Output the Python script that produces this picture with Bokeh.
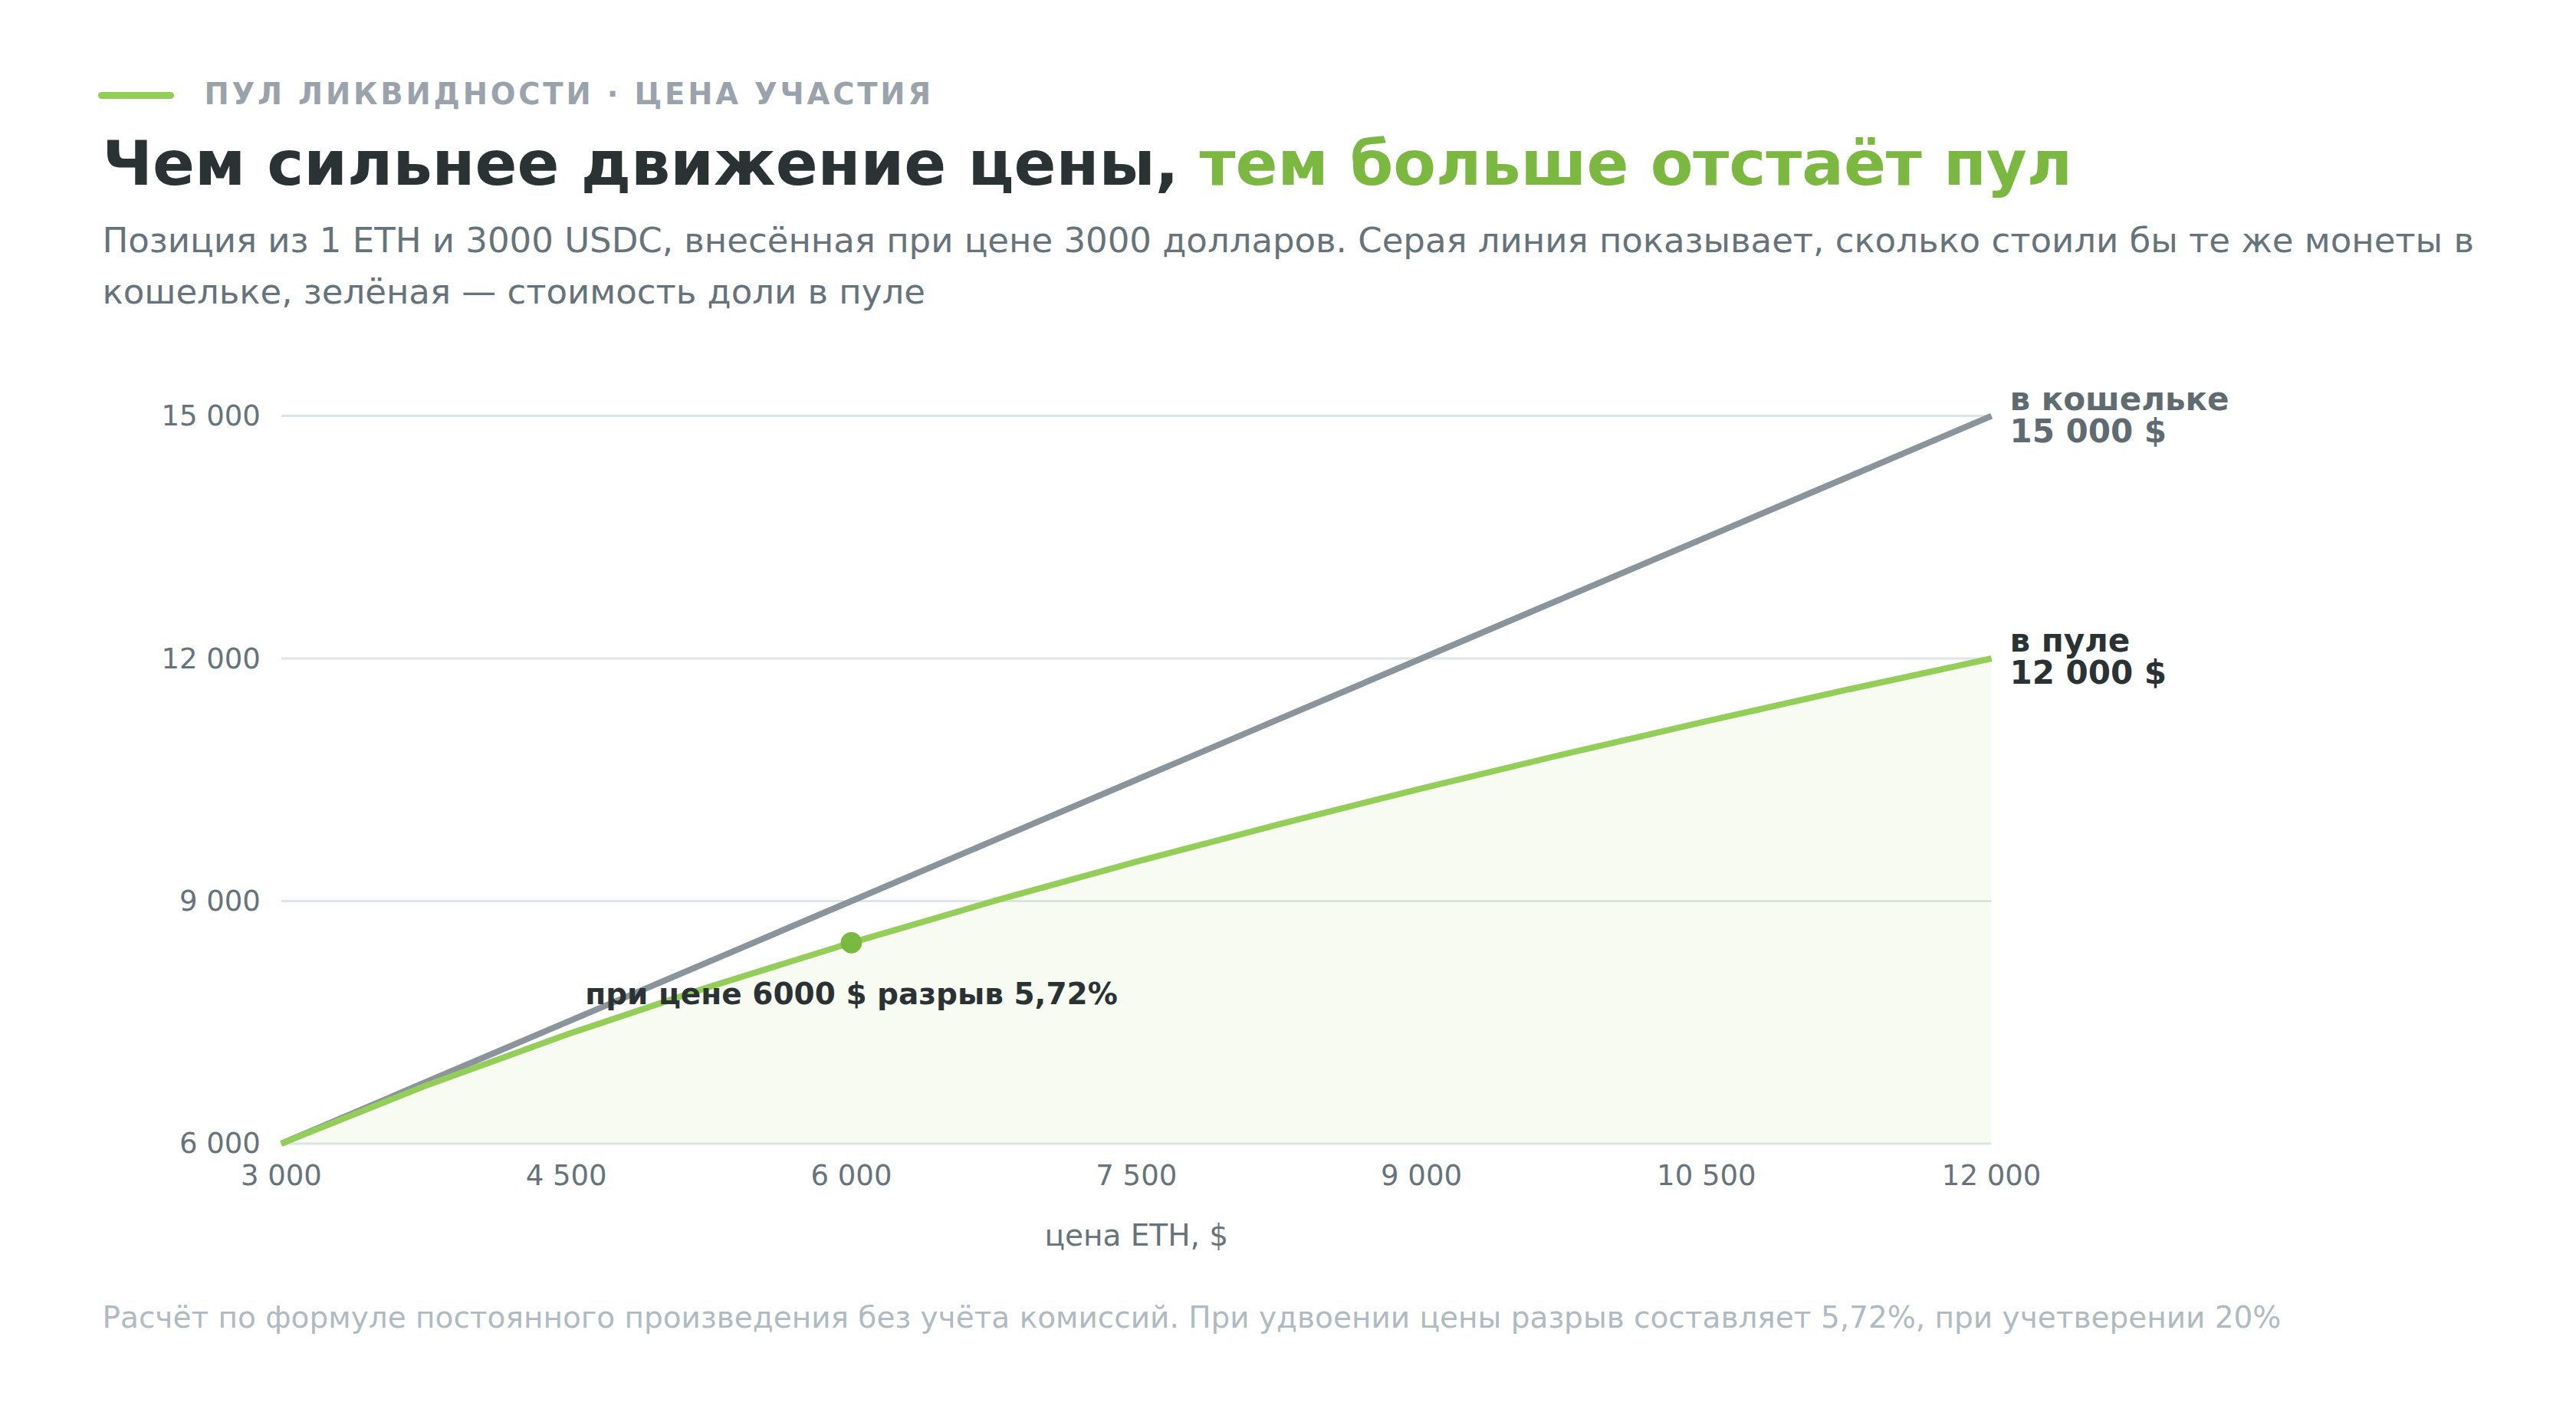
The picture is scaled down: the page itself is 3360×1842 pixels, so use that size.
from bokeh.plotting import figure
from bokeh.models import Label, Arrow
from bokeh.core.properties import value
from bokeh.embed import file_html
from bokeh.resources import INLINE

# ETH price and position value, $
price = [3000, 3750, 4500, 5250, 6000, 6750, 7500, 8250, 9000, 9750, 10500, 11250, 12000]
wallet = [6000, 6750, 7500, 8250, 9000, 9750, 10500, 11250, 12000, 12750, 13500, 14250, 15000]
pool = [6000, 6708, 7348, 7937, 8485, 9000, 9487, 9950, 10392, 10817, 11225, 11619, 12000]

x_ticks = [3000, 4500, 6000, 7500, 9000, 10500, 12000]
x_tick_labels = ["3\u00a0000", "4\u00a0500", "6\u00a0000", "7\u00a0500", "9\u00a0000", "10\u00a0500", "12\u00a0000"]
y_ticks = [6000, 9000, 12000, 15000]
y_tick_labels = ["6\u00a0000", "9\u00a0000", "12\u00a0000", "15\u00a0000"]

mark_price = 6000
mark_pool = 8485

FONT = "DejaVu Sans"
DARK = "#2b3234"
MUTED = "#66737a"
GREEN = "#93cf58"
GREEN_DARK = "#7ab840"
GRAY = "#8b949a"

W, H = 3344, 1826
# where the plotting area sits on the canvas, px
FL, FR, FT, FB = 366.4, 2597.1, 542.1, 1491.4

x0, x1 = min(x_ticks), max(x_ticks)
y0, y1 = min(y_ticks), max(y_ticks)
kx = (x1 - x0) / (FR - FL)
ky = (y1 - y0) / (FB - FT)

p = figure(width=W, height=H, output_backend="svg", toolbar_location=None, tools="",
           x_range=(x0 - FL * kx, x1 + (W - FR) * kx),
           y_range=(y0 - (H - FB) * ky, y1 + FT * ky),
           x_axis_location=None, y_axis_location=None,
           min_border=0)
p.outline_line_color = None
p.grid.grid_line_color = None
p.background_fill_color = "white"
p.border_fill_color = "white"

# grid
p.segment(x0=x0, x1=x1, y0=y_ticks, y1=y_ticks, line_color="#dfe6e9", line_width=3)

p.varea(x=price, y1=[y0] * len(price), y2=pool, fill_color=GREEN, fill_alpha=0.08)
p.line(price, wallet, color=GRAY, line_width=8)
p.line(price, pool, color=GREEN, line_width=8)
p.scatter([mark_price], [mark_pool], size=27, color=GREEN_DARK)

# tick labels
p.text(x=x_ticks, y=[y0] * len(x_ticks), text=x_tick_labels, y_offset=42,
       text_font=value(FONT), text_font_size="37px", text_color=MUTED,
       text_align="center", text_baseline="alphabetic")
p.text(x=[x0] * len(y_ticks), y=y_ticks, text=y_tick_labels, x_offset=-27,
       text_font=value(FONT), text_font_size="37px", text_color=MUTED,
       text_align="right", text_baseline="middle")


def add_text(x, y, text, size, color, bold=False, align="left", units="screen", y_offset=0):
    p.add_layout(Label(x=x, y=y, x_units=units, y_units=units, text=text, y_offset=y_offset,
                       text_font=FONT, text_font_size=size, text_color=color,
                       text_font_style="bold" if bold else "normal",
                       text_align=align, text_baseline="alphabetic"))


# header (canvas px, y from bottom)
p.add_layout(Arrow(end=None, x_start=132, y_start=H - 124, x_end=222, y_end=H - 124,
                   start_units="screen", end_units="screen",
                   line_color=GREEN, line_width=9, line_cap="round"))
kicker = "\u200a".join("ПУЛ ЛИКВИДНОСТИ · ЦЕНА УЧАСТИЯ")
add_text(266, H - 122, kicker, "38.5px", "#9aa3ab", bold=True)
add_text(133, H - 212, "Чем сильнее движение цены,", "81px", DARK, bold=True)
add_text(1564, H - 212, "тем больше отстаёт пул", "81px", GREEN_DARK, bold=True)
add_text(133, H - 313, "Позиция из 1 ETH и 3000 USDC, внесённая при цене 3000 долларов. "
                       "Серая линия показывает, сколько стоили бы те же монеты в", "45px", MUTED)
add_text(133, H - 380, "кошельке, зелёная — стоимость доли в пуле", "45px", MUTED)

# end labels
add_text(2621, H - 520, "в кошельке", "42px", "#5f6b70", bold=True)
add_text(2621, H - 562, "15\u00a0000 $", "42px", "#5f6b70", bold=True)
add_text(2621, H - 835, "в пуле", "42px", DARK, bold=True)
add_text(2621, H - 877, "12\u00a0000 $", "42px", DARK, bold=True)

# gap note
add_text(mark_price, mark_pool, "при цене 6000 $ разрыв 5,72%", "39px", DARK, bold=True,
         align="center", units="data", y_offset=-67)

# axis title and footnote
add_text((FL + FR) / 2, H - 1611, "цена ETH, $", "39px", MUTED, align="center")
add_text(133, H - 1718, "Расчёт по формуле постоянного произведения без учёта комиссий. "
                        "При удвоении цены разрыв составляет 5,72%, при учетверении 20%", "39px", "#b0bac1")

open("out.html", "w").write(file_html(p, INLINE))
